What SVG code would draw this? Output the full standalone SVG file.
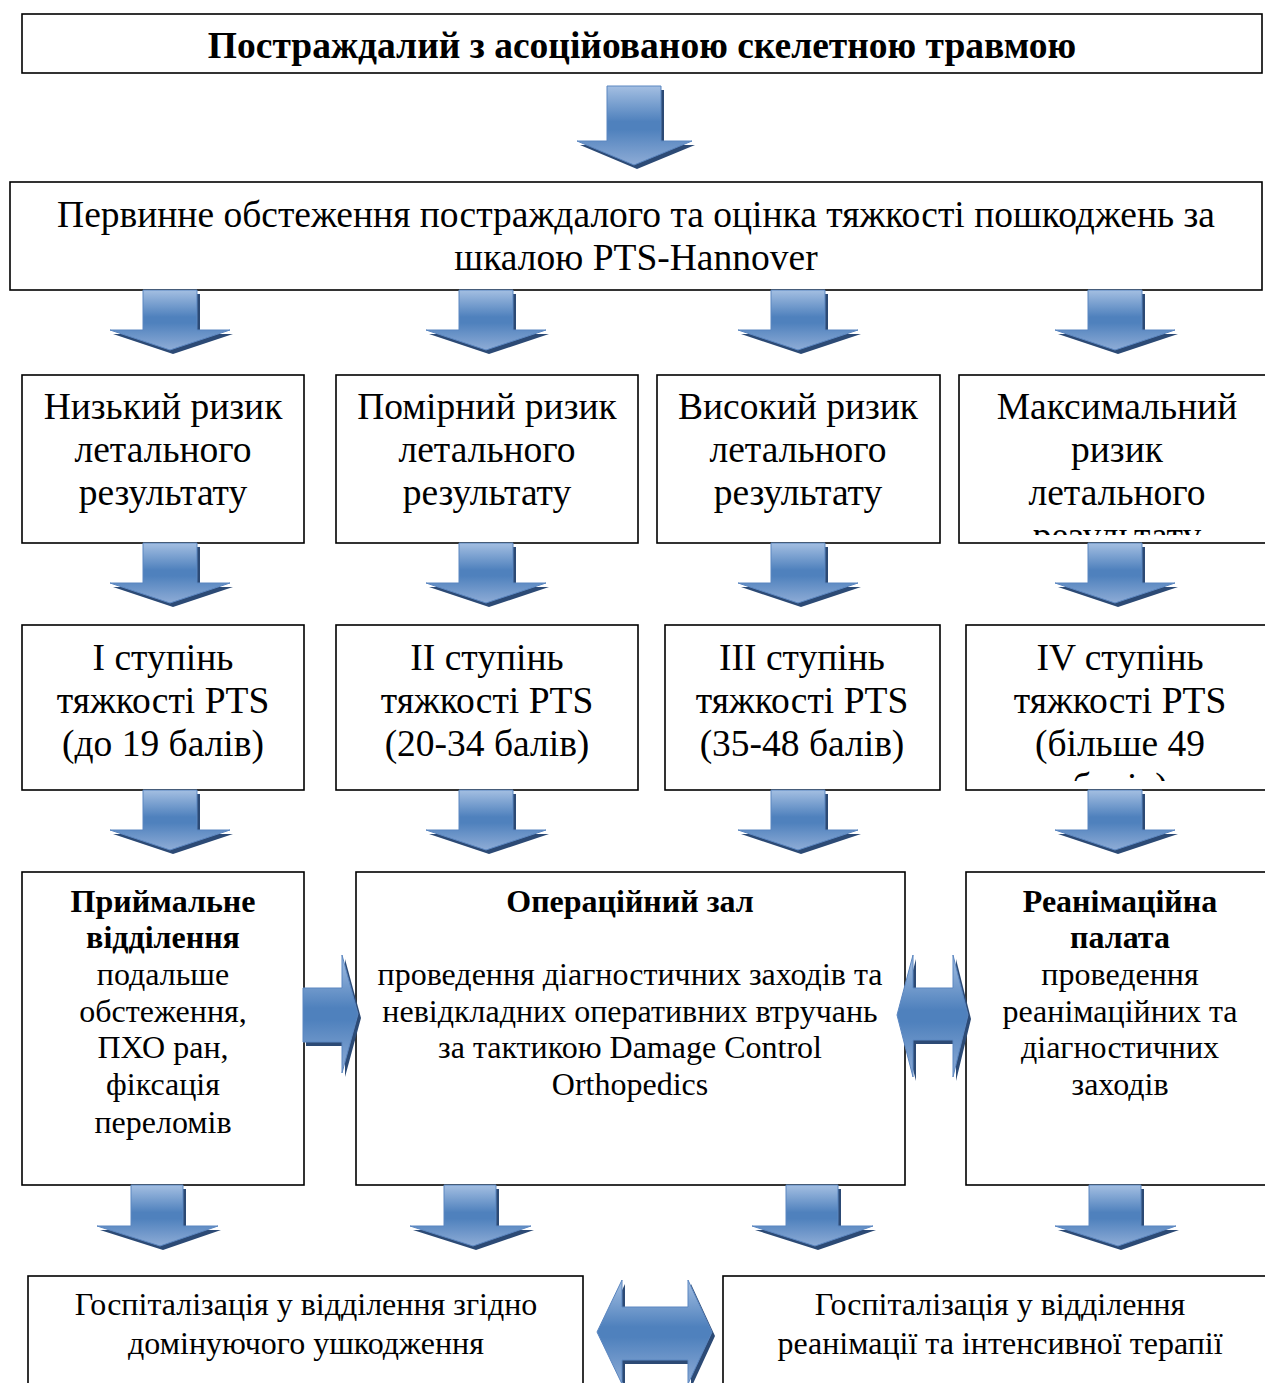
<svg xmlns="http://www.w3.org/2000/svg" xmlns:xlink="http://www.w3.org/1999/xlink" width="1265" height="1383" viewBox="0 0 1265 1383">
<style>
.box{fill:#fff;stroke:#000;stroke-width:1.6}
.t{font-family:"Liberation Serif","Times New Roman",serif;fill:#000;text-anchor:middle}
.t34{font-size:37.5px}
.t33{font-size:37.5px}
.t28{font-size:32px}
.b{font-weight:bold}
.arr{fill:url(#g);stroke:#5b86c0;stroke-width:1}
.sh{fill:#2c4a75}
</style>
<defs>
<linearGradient id="g" x1="0" y1="0" x2="0" y2="1">
<stop offset="0" stop-color="#a4bfe2"/>
<stop offset="0.45" stop-color="#4f81bd"/>
<stop offset="0.55" stop-color="#4f81bd"/>
<stop offset="1" stop-color="#8eacd6"/>
</linearGradient>
<path id="da" d="M-27,0 H27 V40 H60 L0,60 L-60,40 H-27 Z"/>
<path id="db" d="M-26,0 H26 V41 H61 L3,61 L-60,41 H-26 Z"/>
<path id="dt" d="M-27,0 H27 V55 H58 L0,79 L-57,55 H-27 Z"/>
<path id="ra" d="M303,988 H342 V955 L358,1014 L342,1073 V1042 H303 Z"/>
<path id="dbl1" d="M897,1015 L913,955 V988 H953 V955 L968,1015 L953,1077 V1040 H913 V1077 Z"/>
<path id="dbl2" d="M597,1332 L622,1280 V1307 H688 V1280 L712,1332 L688,1384 V1360 H622 V1384 Z"/>
<clipPath id="c3d"><rect x="959" y="375" width="310" height="160"/></clipPath>
<clipPath id="c4d"><rect x="966" y="625" width="310" height="156"/></clipPath>
</defs>

<g id="n1">
<rect class="box" x="22" y="14" width="1240" height="59"/>
<text class="t t33 b" x="642" y="58">Постраждалий з асоційованою скелетною травмою</text>
</g>

<g id="n2">
<rect class="box" x="10" y="182" width="1252" height="108"/>
<text class="t t34" x="636" y="227">Первинне обстеження постраждалого та оцінка тяжкості пошкоджень за</text>
<text class="t t34" x="636" y="270">шкалою PTS-Hannover</text>
</g>

<g id="n3a">
<rect class="box" x="22" y="375" width="282" height="168"/>
<text class="t t34" x="163" y="419">Низький ризик</text>
<text class="t t34" x="163" y="462">летального</text>
<text class="t t34" x="163" y="505">результату</text>
</g>
<g id="n3b">
<rect class="box" x="336" y="375" width="302" height="168"/>
<text class="t t34" x="487" y="419">Помірний ризик</text>
<text class="t t34" x="487" y="462">летального</text>
<text class="t t34" x="487" y="505">результату</text>
</g>
<g id="n3c">
<rect class="box" x="657" y="375" width="283" height="168"/>
<text class="t t34" x="798" y="419">Високий ризик</text>
<text class="t t34" x="798" y="462">летального</text>
<text class="t t34" x="798" y="505">результату</text>
</g>
<g id="n3d">
<rect class="box" x="959" y="375" width="316" height="168"/>
<g clip-path="url(#c3d)">
<text class="t t34" x="1117" y="419">Максимальний</text>
<text class="t t34" x="1117" y="462">ризик</text>
<text class="t t34" x="1117" y="505">летального</text>
<text class="t t34" x="1117" y="548">результату</text>
</g>
</g>

<g id="n4a">
<rect class="box" x="22" y="625" width="282" height="165"/>
<text class="t t34" x="163" y="670">I ступінь</text>
<text class="t t34" x="163" y="713">тяжкості PTS</text>
<text class="t t34" x="163" y="756">(до 19 балів)</text>
</g>
<g id="n4b">
<rect class="box" x="336" y="625" width="302" height="165"/>
<text class="t t34" x="487" y="670">II ступінь</text>
<text class="t t34" x="487" y="713">тяжкості PTS</text>
<text class="t t34" x="487" y="756">(20-34 балів)</text>
</g>
<g id="n4c">
<rect class="box" x="665" y="625" width="275" height="165"/>
<text class="t t34" x="802" y="670">III ступінь</text>
<text class="t t34" x="802" y="713">тяжкості PTS</text>
<text class="t t34" x="802" y="756">(35-48 балів)</text>
</g>
<g id="n4d">
<rect class="box" x="966" y="625" width="310" height="165"/>
<g clip-path="url(#c4d)">
<text class="t t34" x="1120" y="670">IV ступінь</text>
<text class="t t34" x="1120" y="713">тяжкості PTS</text>
<text class="t t34" x="1120" y="756">(більше 49</text>
<text class="t t34" x="1120" y="799">балів)</text>
</g>
</g>

<g id="n5a">
<rect class="box" x="22" y="872" width="282" height="313"/>
<text class="t t28 b" x="163" y="912">Приймальне</text>
<text class="t t28 b" x="163" y="948">відділення</text>
<text class="t t28" x="163" y="985">подальше</text>
<text class="t t28" x="163" y="1022">обстеження,</text>
<text class="t t28" x="163" y="1058">ПХО ран,</text>
<text class="t t28" x="163" y="1095">фіксація</text>
<text class="t t28" x="163" y="1133">переломів</text>
</g>
<g id="n5b">
<rect class="box" x="356" y="872" width="549" height="313"/>
<text class="t t28 b" x="630" y="912">Операційний зал</text>
<text class="t t28" x="630" y="985">проведення діагностичних заходів та</text>
<text class="t t28" x="630" y="1022">невідкладних оперативних втручань</text>
<text class="t t28" x="630" y="1058">за тактикою Damage Control</text>
<text class="t t28" x="630" y="1095">Orthopedics</text>
</g>
<g id="n5c">
<rect class="box" x="966" y="872" width="310" height="313"/>
<text class="t t28 b" x="1120" y="912">Реанімаційна</text>
<text class="t t28 b" x="1120" y="948">палата</text>
<text class="t t28" x="1120" y="985">проведення</text>
<text class="t t28" x="1120" y="1022">реанімаційних та</text>
<text class="t t28" x="1120" y="1058">діагностичних</text>
<text class="t t28" x="1120" y="1095">заходів</text>
</g>

<g id="n6a">
<rect class="box" x="28" y="1276" width="555" height="120"/>
<text class="t t28" x="306" y="1315">Госпіталізація у відділення згідно</text>
<text class="t t28" x="306" y="1354">домінуючого ушкодження</text>
</g>
<g id="n6b">
<rect class="box" x="723" y="1276" width="554" height="120"/>
<text class="t t28" x="1000" y="1315">Госпіталізація у відділення</text>
<text class="t t28" x="1000" y="1354">реанімації та інтенсивної терапії</text>
</g>

<g id="connectors">
<use href="#dt" class="sh" transform="translate(637,90)"/>
<use href="#dt" class="arr" transform="translate(634,86)"/>

<use href="#da" class="sh" transform="translate(173,294)"/>
<use href="#da" class="arr" transform="translate(170,290)"/>
<use href="#da" class="sh" transform="translate(489,294)"/>
<use href="#da" class="arr" transform="translate(486,290)"/>
<use href="#da" class="sh" transform="translate(801,294)"/>
<use href="#da" class="arr" transform="translate(798,290)"/>
<use href="#da" class="sh" transform="translate(1118,294)"/>
<use href="#da" class="arr" transform="translate(1115,290)"/>

<use href="#da" class="sh" transform="translate(173,547)"/>
<use href="#da" class="arr" transform="translate(170,543)"/>
<use href="#da" class="sh" transform="translate(489,547)"/>
<use href="#da" class="arr" transform="translate(486,543)"/>
<use href="#da" class="sh" transform="translate(801,547)"/>
<use href="#da" class="arr" transform="translate(798,543)"/>
<use href="#da" class="sh" transform="translate(1118,547)"/>
<use href="#da" class="arr" transform="translate(1115,543)"/>

<use href="#da" class="sh" transform="translate(173,794)"/>
<use href="#da" class="arr" transform="translate(170,790)"/>
<use href="#da" class="sh" transform="translate(489,794)"/>
<use href="#da" class="arr" transform="translate(486,790)"/>
<use href="#da" class="sh" transform="translate(801,794)"/>
<use href="#da" class="arr" transform="translate(798,790)"/>
<use href="#da" class="sh" transform="translate(1118,794)"/>
<use href="#da" class="arr" transform="translate(1115,790)"/>

<use href="#ra" class="sh" transform="translate(3,4)"/>
<use href="#ra" class="arr"/>
<use href="#dbl1" class="sh" transform="translate(3,4)"/>
<use href="#dbl1" class="arr"/>

<use href="#db" class="sh" transform="translate(160,1189)"/>
<use href="#db" class="arr" transform="translate(157,1185)"/>
<use href="#db" class="sh" transform="translate(473,1189)"/>
<use href="#db" class="arr" transform="translate(470,1185)"/>
<use href="#db" class="sh" transform="translate(815,1189)"/>
<use href="#db" class="arr" transform="translate(812,1185)"/>
<use href="#db" class="sh" transform="translate(1118,1189)"/>
<use href="#db" class="arr" transform="translate(1115,1185)"/>

<use href="#dbl2" class="sh" transform="translate(3,4)"/>
<use href="#dbl2" class="arr"/>
</g>
</svg>
